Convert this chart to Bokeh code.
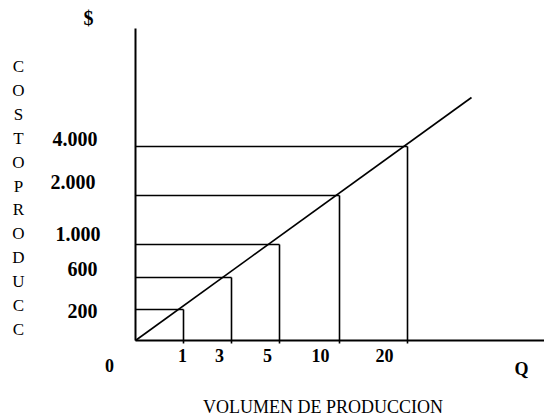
from bokeh.plotting import figure
from bokeh.models import Range1d, ColumnDataSource
from bokeh.core.properties import value
from bokeh.embed import file_html
from bokeh.resources import INLINE

# ---- data (schematic cost chart) ----
quantities = [1, 3, 5, 10, 20]
costs = [200, 600, 1000, 2000, 4000]
q_labels = ["1", "3", "5", "10", "20"]
c_labels = ["200", "600", "1.000", "2.000", "4.000"]
y_title = "COSTOPRODUCC"
x_title = "VOLUMEN DE PRODUCCION"

# ---- schematic layout (diagram is not to scale) ----
q_pos = [48, 96, 144, 204, 272]        # where each quantity sits on the Q axis
c_pos = [31, 63, 96, 145, 194]         # where each cost sits on the $ axis
q_label_x = [47, 84, 132, 185, 249]
c_label_x = [-38, -38, -35, -40, -38]
c_label_y = [30, 72, 107, 159, 202]
curve_end = (336, 243)

FONT = value("Liberation Serif")

p = figure(width=544, height=417, x_range=Range1d(-135, 409), y_range=Range1d(-77, 340),
           min_border=0, toolbar_location=None, output_backend="svg",
           x_axis_type=None, y_axis_type=None, outline_line_color=None)
p.grid.visible = False
p.background_fill_color = "white"
p.border_fill_color = "white"

# axes
p.segment(x0=[0, 0], y0=[0, 0], x1=[0, 409], y1=[312, 0], line_color="black", line_width=2)

# cost curve
p.segment(x0=[0], y0=[0], x1=[curve_end[0]], y1=[curve_end[1]], line_color="black", line_width=1.6)

# guide lines
src = ColumnDataSource(dict(q=quantities, c=costs, qx=q_pos, cy=c_pos,
                            zero=[0] * len(q_pos), below=[-3] * len(q_pos)))
p.segment(x0="zero", y0="cy", x1="qx", y1="cy", source=src, line_color="black", line_width=1.6)
p.segment(x0="qx", y0="below", x1="qx", y1="cy", source=src, line_color="black", line_width=1.6)

# tick labels
p.text(x=c_label_x, y=c_label_y, text=c_labels, text_font=FONT, text_font_size="20px",
       text_font_style="bold", text_align="right", text_baseline="alphabetic", text_color="black")
p.text(x=q_label_x, y=[-15] * len(q_labels), text=q_labels, text_font=FONT, text_font_size="18px",
       text_font_style="bold", text_align="center", text_baseline="alphabetic", text_color="black")

# axis symbols
p.text(x=[-26], y=[-25], text=["0"], text_font=FONT, text_font_size="18px", text_font_style="bold",
       text_align="center", text_baseline="alphabetic", text_color="black")
p.text(x=[386], y=[-28], text=["Q"], text_font=FONT, text_font_size="18px", text_font_style="bold",
       text_align="center", text_baseline="alphabetic", text_color="black")
p.text(x=[-47], y=[323], text=["$"], text_font=FONT, text_font_size="20px", text_font_style="bold",
       text_align="center", text_baseline="alphabetic", text_color="black")

# titles
letters = list(y_title)
letter_y = [340 - (67 + 23.9 * i) + 1 for i in range(len(letters))]
p.text(x=[-117] * len(letters), y=letter_y, text=letters, text_font=FONT, text_font_size="17px",
       text_align="center", text_baseline="alphabetic", text_color="black")
p.text(x=[187.5], y=[-66], text=[x_title], text_font=FONT, text_font_size="18px",
       text_align="center", text_baseline="alphabetic", text_color="black")

open("out.html", "w").write(file_html(p, INLINE))
